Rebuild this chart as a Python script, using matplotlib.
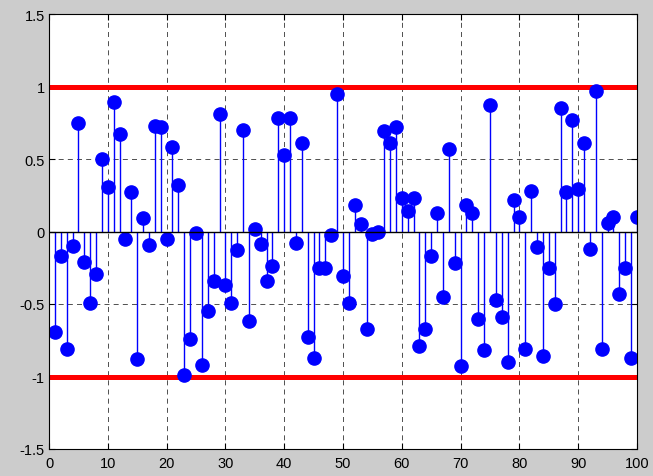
import numpy as np
import matplotlib.pyplot as plt

plt.rcParams['font.family'] = ['Liberation Sans', 'DejaVu Sans']

# sample index and values
n = np.arange(1, 101)
values = [
    -0.69, -0.17, -0.81, -0.10, 0.75, -0.21, -0.49, -0.29, 0.50, 0.31,
    0.89, 0.67, -0.05, 0.27, -0.88, 0.09, -0.09, 0.73, 0.72, -0.05,
    0.58, 0.32, -0.99, -0.74, -0.01, -0.92, -0.545, -0.34, 0.81, -0.37,
    -0.49, -0.13, 0.70, -0.62, 0.02, -0.085, -0.34, -0.235, 0.785, 0.53,
    0.78, -0.08, 0.61, -0.73, -0.87, -0.25, -0.25, -0.025, 0.95, -0.31,
    -0.49, 0.18, 0.05, -0.67, -0.02, 0.00, 0.69, 0.61, 0.72, 0.23,
    0.14, 0.23, -0.79, -0.67, -0.17, 0.13, -0.45, 0.57, -0.22, -0.93,
    0.18, 0.13, -0.60, -0.82, 0.87, -0.47, -0.59, -0.90, 0.22, 0.10,
    -0.81, 0.28, -0.11, -0.86, -0.25, -0.50, 0.855, 0.27, 0.77, 0.29,
    0.61, -0.12, 0.97, -0.81, 0.06, 0.10, -0.43, -0.25, -0.87, 0.10,
]
limits = [1, -1]

fig = plt.figure(figsize=(6.53, 4.77), dpi=100, facecolor='#cccccc')
ax = fig.add_axes([49/653, 27/477, 588/653, 435/477])
ax.set_facecolor('white')

markerline, stemlines, baseline = ax.stem(n, values, linefmt='b-', markerfmt='bo', basefmt='k-')
markerline.set_markersize(9.5)
stemlines.set_linewidth(1)
baseline.set_linewidth(1)
baseline.set_xdata([0, 100])
for lim in limits:
    ax.axhline(lim, color='red', lw=3.6, zorder=1)

ax.set_xlim(0, 100)
ax.set_ylim(-1.5, 1.5)
ax.set_xticks(np.arange(0, 101, 10))
ax.set_yticks([-1.5, -1, -0.5, 0, 0.5, 1, 1.5])
ax.set_yticklabels(['-1.5', '-1', '-0.5', '0', '0.5', '1', '1.5'])
ax.grid(True, color='black', linestyle=(0, (6, 5)), linewidth=0.6, alpha=0.8)
ax.set_axisbelow(True)
ax.tick_params(direction='in', length=4, labelsize=10.5, top=True, right=True, pad=3)
ax.tick_params(axis='x', pad=5)
for s in ax.spines.values():
    s.set_linewidth(0.8)

fig.savefig('out.png', dpi=100, facecolor=fig.get_facecolor())
